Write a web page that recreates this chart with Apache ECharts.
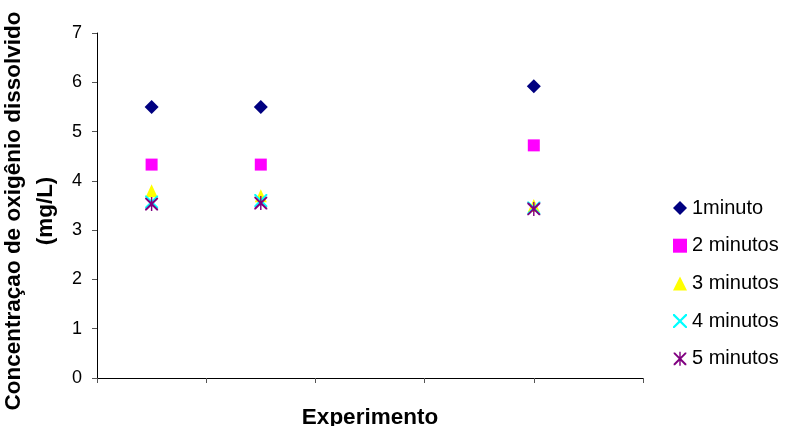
<!DOCTYPE html>
<html>
<head>
<meta charset="utf-8">
<script src="https://cdn.jsdelivr.net/npm/echarts@6/dist/echarts.min.js"></script>
<style>html,body{margin:0;padding:0;background:#fff}#c{width:787px;height:426px}</style>
</head>
<body>
<div id="c"></div>
<script>
var experimentX = [1, 3, 8];
var seriesNames = ['1minuto', '2 minutos', '3 minutos', '4 minutos', '5 minutos'];
var min1 = [5.5, 5.5, 5.92];
var min2 = [4.33, 4.33, 4.72];
var min3 = [3.8, 3.7, 3.5];
var min4 = [3.57, 3.6, 3.45];
var min5 = [3.53, 3.55, 3.43];
var yTicks = [0, 1, 2, 3, 4, 5, 6, 7];

var X_PATH = 'path://M0,0L2.2,0L10,7.8L17.8,0L20,0L20,2.2L12.2,10L20,17.8L20,20L17.8,20L10,12.2L2.2,20L0,20L0,17.8L7.8,10L0,2.2Z';
var AST_PATH = 'path://M0,0L2.2,0L10,7.8L17.8,0L20,0L20,2.2L12.2,10L20,17.8L20,20L17.8,20L10,12.2L2.2,20L0,20L0,17.8L7.8,10L0,2.2ZM8.9,-1L11.1,-1L11.1,21L8.9,21Z';

function pts(arr) { return arr.map(function (v, i) { return [experimentX[i], v]; }); }

var styles = [
  { data: min1, symbol: 'diamond', size: [14, 14], color: '#000080' },
  { data: min2, symbol: 'rect', size: [12, 12], color: '#FF00FF' },
  { data: min3, symbol: 'triangle', size: [12, 13], color: '#FFFF00' },
  { data: min4, symbol: X_PATH, size: [13, 13], color: '#00FFFF' },
  { data: min5, symbol: AST_PATH, size: [13, 14], color: '#800080' }
];

var FONT = 'Liberation Sans, Arial, sans-serif';
var chart = echarts.init(document.getElementById('c'), null, { renderer: 'canvas' });
chart.setOption({
  animation: false,
  backgroundColor: '#ffffff',
  textStyle: { fontFamily: FONT },
  grid: { left: 97, right: 144, top: 33, bottom: 48, containLabel: false, outerBoundsMode: 'none' },
  xAxis: {
    type: 'value', min: 0, max: 10, interval: 2,
    name: 'Experimento', nameLocation: 'middle', nameGap: 28,
    nameTextStyle: { fontSize: 22.5, fontWeight: 'bold', color: '#000', fontFamily: FONT },
    axisLine: { show: true, lineStyle: { color: '#000', width: 1 } },
    axisTick: { show: true, length: 5, inside: false, lineStyle: { color: '#555' } },
    axisLabel: { show: false },
    splitLine: { show: false }
  },
  yAxis: {
    type: 'value', min: yTicks[0], max: yTicks[yTicks.length - 1], interval: 1,
    name: 'Concentraçao de oxigênio dissolvido\n(mg/L)', nameLocation: 'middle', nameGap: 24,
    nameTextStyle: { fontSize: 22.5, fontWeight: 'bold', color: '#000', lineHeight: 31.5, align: 'center', padding: [0, 11, 0, 0], fontFamily: FONT },
    axisLine: { show: true, lineStyle: { color: '#000', width: 1 } },
    axisTick: { show: true, length: 5, lineStyle: { color: '#555' } },
    axisLabel: { fontSize: 18, color: '#000', margin: 15, fontFamily: FONT },
    splitLine: { show: false }
  },
  legend: {
    orient: 'vertical', left: 668, top: 193,
    itemWidth: 14, itemHeight: 14, itemGap: 17.7,
    textStyle: { fontSize: 20, color: '#000', fontFamily: FONT },
    data: seriesNames
  },
  series: styles.map(function (s, i) {
    return {
      name: seriesNames[i], type: 'scatter', data: pts(s.data),
      symbol: s.symbol, symbolSize: s.size,
      itemStyle: { color: s.color, opacity: 1 },
      z: 2 + i
    };
  })
});
</script>
</body>
</html>
